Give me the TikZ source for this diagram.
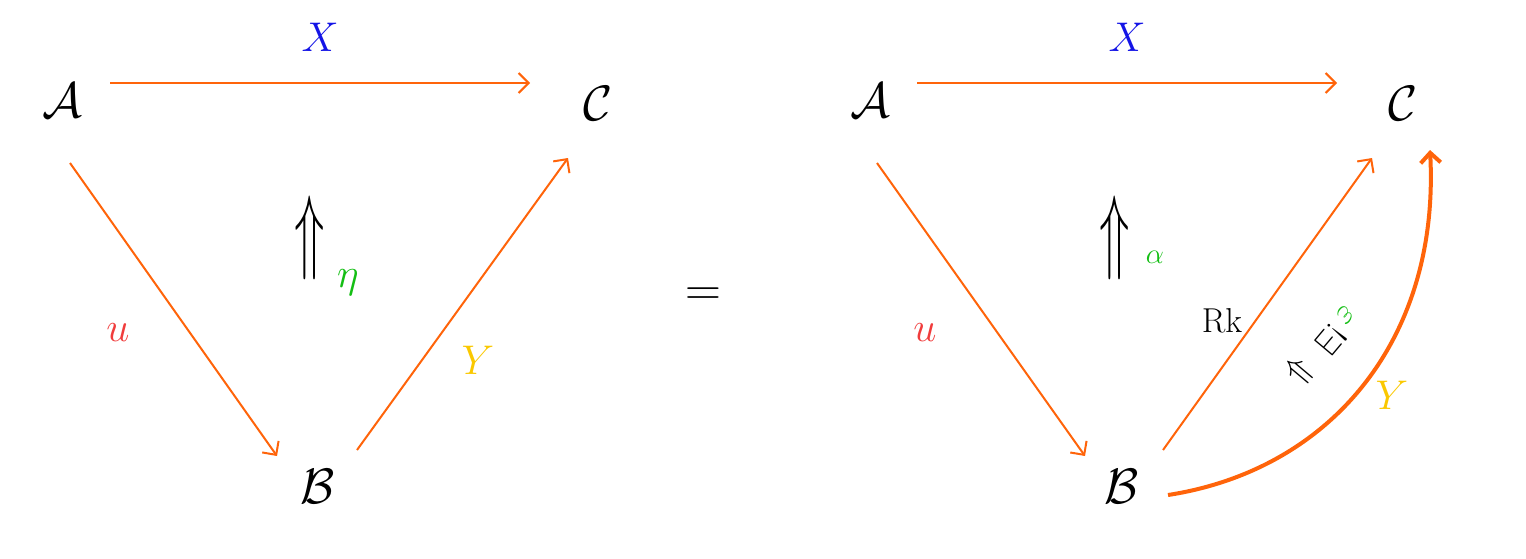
\documentclass[tikz,border=0pt]{standalone}
\usepackage{amssymb}
\usetikzlibrary{arrows.meta}
\begin{document}
\begin{tikzpicture}[x=0.5pt,y=-0.5pt,
 obj/.style={font=\fontsize{30}{32}\selectfont},
 lab/.style={font=\fontsize{22}{24}\selectfont},
 cell/.style={font=\fontsize{40}{40}\selectfont,yscale=1.9},
 ar/.style={draw={rgb,255:red,255;green,100;blue,10},line width=1pt,-{Straight Barb[length=5pt]}}]
\useasboundingbox (0,0) rectangle (1526,558);
\definecolor{xb}{RGB}{20,20,230}
\definecolor{ur}{RGB}{240,60,60}
\definecolor{yy}{RGB}{250,200,0}
\definecolor{gg}{RGB}{20,190,20}
% left
\node[obj] (A) at (62,100) {$\mathcal{A}$};
\node[obj] (C) at (598,103) {$\mathcal{C}$};
\node[obj] (B) at (318,486) {$\mathcal{B}$};
\draw[ar] (110,83) -- node[above=12pt,lab,text=xb]{$X$} (530,83);
\draw[ar] (70,163) -- (277,456);
\node[lab,text=ur] (ul) at (118,333) {$u$};
\draw[ar] (357,450) -- (568,158);
\node[lab,text=yy] (yl1) at (478,360) {$Y$};
\node[cell] (eta) at (310,238) {$\Uparrow$};
\node[lab,text=gg] (etal) at (348,283) {$\eta$};
\node[font=\fontsize{40}{40}\selectfont] (eq) at (703,297) {$=$};
% right
\node[obj] (A2) at (870,100) {$\mathcal{A}$};
\node[obj] (C2) at (1403,103) {$\mathcal{C}$};
\node[obj] (B2) at (1122,486) {$\mathcal{B}$};
\draw[ar] (917,83) -- node[above=12pt,lab,text=xb]{$X$} (1337,83);
\draw[ar] (877,163) -- (1085,456);
\node[lab,text=ur] (ul2) at (925,333) {$u$};
\draw[ar] (1163,450) -- (1372,158);
\node[font=\fontsize{16}{16}\selectfont] (rk) at (1222,320) {$\mathrm{Rk}$};
\draw[ar,line width=2pt] (1168,495) .. controls (1330,470) and (1440,340) .. (1430,150);
\node[lab,text=yy] (yl) at (1392,395) {$Y$};
\node[cell] (al) at (1115,238) {$\Uparrow$};
\node[font=\fontsize{14}{14}\selectfont,text=gg] (all) at (1155,257) {$\alpha$};
\node[rotate=230,font=\fontsize{17}{17}\selectfont,inner sep=0pt] (ex) at (1322,345) {$\textcolor{gg}{\varepsilon}\,!\exists\ \Downarrow$};
\end{tikzpicture}
\end{document}
